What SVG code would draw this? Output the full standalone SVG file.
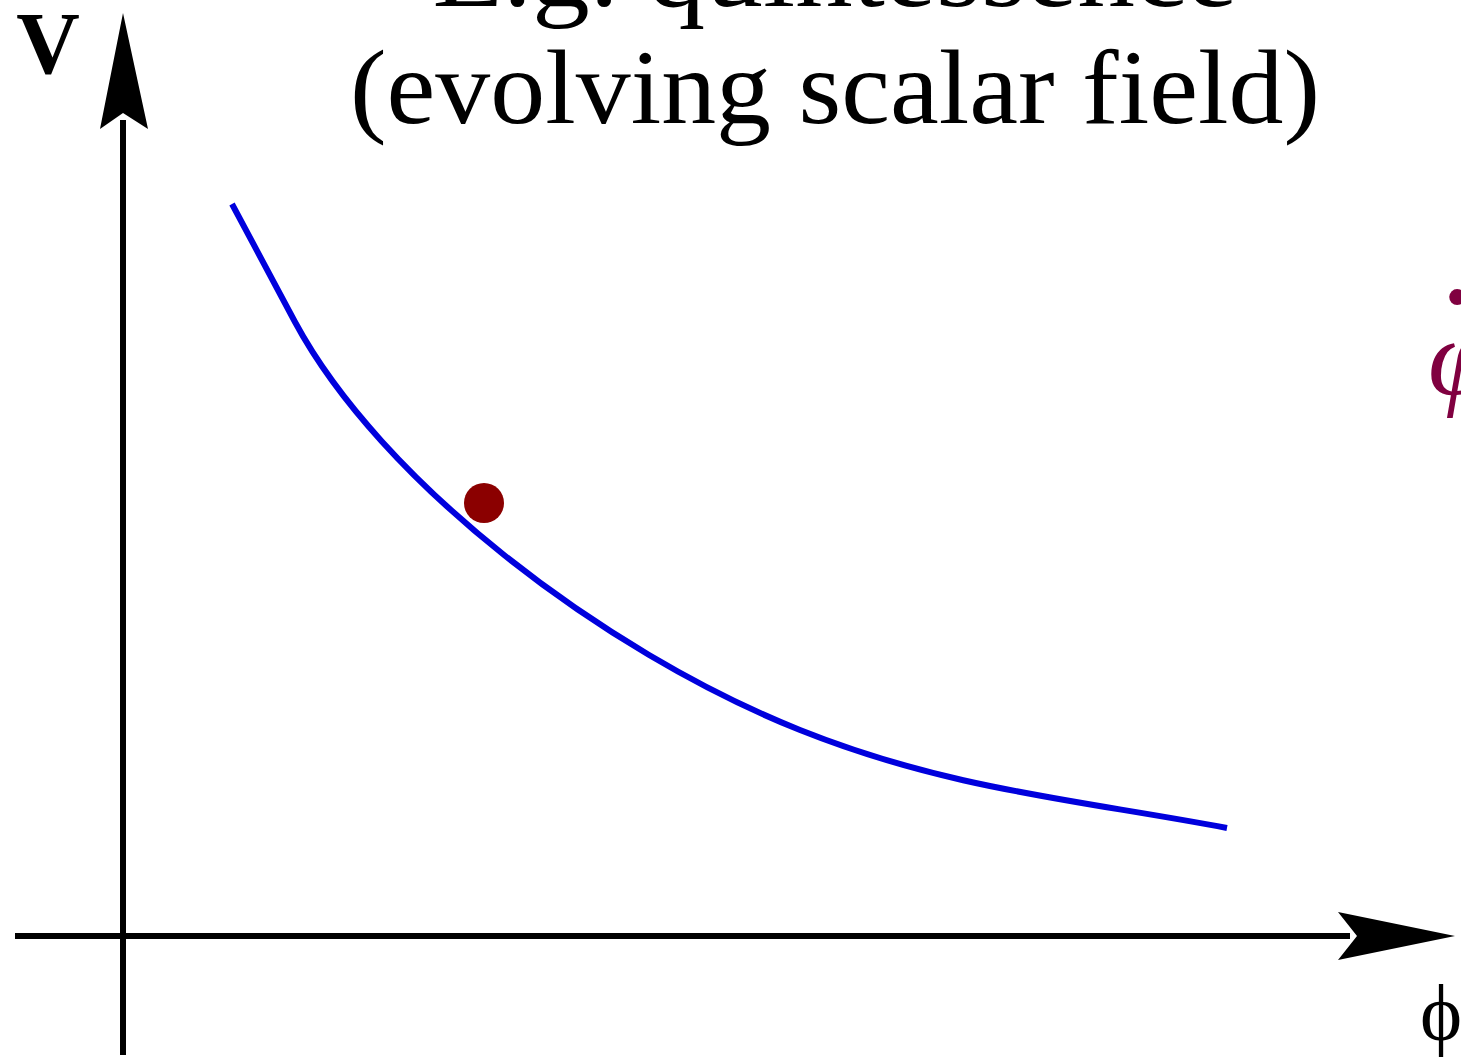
<svg xmlns="http://www.w3.org/2000/svg" width="1461" height="1062" viewBox="0 0 1461 1062">
<style>
.t{font-family:"Liberation Serif","DejaVu Serif",serif;fill:#000}
.ax{stroke:#000;stroke-width:6;fill:none}
.ah{fill:#000}
.m{font-family:"Liberation Serif","DejaVu Serif",serif;fill:#800040}
</style>
<rect width="1461" height="1062" fill="#fff"/>
<g id="title">
<text class="t" x="835" y="6" font-size="106" text-anchor="middle" textLength="805" lengthAdjust="spacingAndGlyphs">E.g. quintessence</text>
<text class="t" x="835" y="123" font-size="106" text-anchor="middle" textLength="970" lengthAdjust="spacingAndGlyphs">(evolving scalar field)</text>
</g>
<g id="axes">
<line class="ax" x1="123" y1="120" x2="123" y2="1055"/>
<path class="ah" d="M123,13 L148,129 L123,113 L100,129 Z"/>
<line class="ax" x1="15" y1="936" x2="1350" y2="936"/>
<path class="ah" d="M1455,936 L1338,960 L1357,936 L1338,912 Z"/>
</g>
<g id="labels">
<text class="t" x="48" y="73" font-size="88" font-weight="bold" text-anchor="middle">V</text>
<text class="t" x="1420" y="1040" font-size="80">ϕ</text>
<text class="m" x="1428" y="395" font-size="110" font-style="italic">φ<tspan x="1457" y="389" font-size="150" font-style="normal" text-anchor="middle">˙</tspan></text>
</g>
<g id="potential">
<path d="M232,204 L295,322 C380,480 600,650 800,730 C950,790 1080,800 1227,828" fill="none" stroke="#0000dd" stroke-width="6"/>
</g>
<g id="ball">
<circle cx="484" cy="503" r="20" fill="#8b0000"/>
</g>
</svg>
